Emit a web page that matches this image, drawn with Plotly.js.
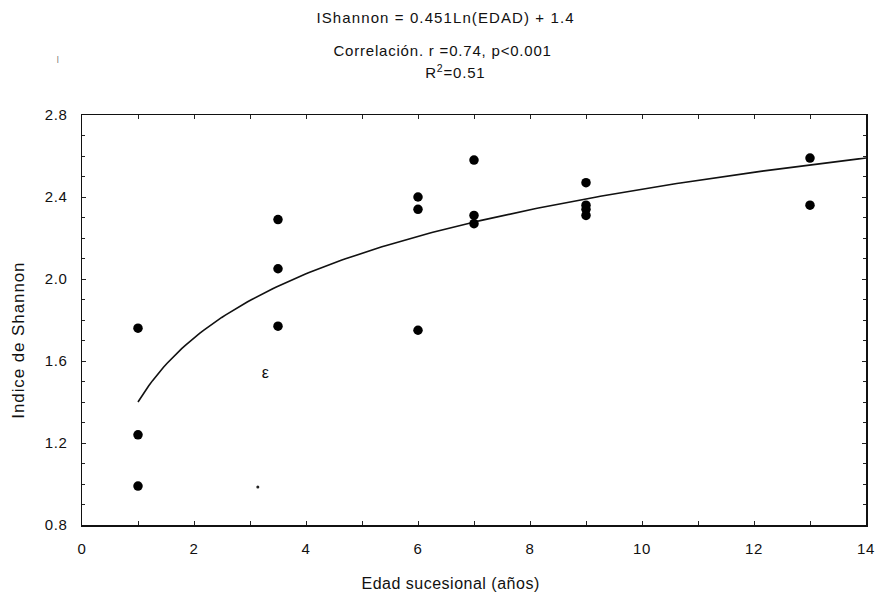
<!DOCTYPE html>
<html>
<head>
<meta charset="utf-8">
<script src="https://cdn.plot.ly/plotly-3.0.1.min.js"></script>
<style>
  html, body { margin: 0; padding: 0; background: #fff; }
  #chart { width: 877px; height: 597px; }
  #chart .annotation-text { letter-spacing: 0.5px; }
  #chart .annotation[data-index="0"] .annotation-text { letter-spacing: 1.1px; }
  #chart .annotation[data-index="1"] .annotation-text { letter-spacing: 0.8px; }
  #chart .annotation[data-index="2"] .annotation-text { letter-spacing: 0.8px; }
  #chart .annotation[data-index="4"] .annotation-text { letter-spacing: 0.9px; }
  #chart .xtick text, #chart .ytick text { letter-spacing: 0.6px; }
</style>
</head>
<body>
<div id="chart"></div>
<script>
// Successional age (years) of each plot and its Shannon diversity index
const edad = [1, 1, 1, 3.5, 3.5, 3.5, 6, 6, 6, 7, 7, 7, 9, 9, 9, 9, 13, 13];
const shannon = [1.76, 1.24, 0.99, 2.29, 2.05, 1.77, 2.40, 2.34, 1.75, 2.58, 2.31, 2.27, 2.47, 2.36, 2.34, 2.31, 2.59, 2.36];

// Small stray specks on the printed figure
const speckX = [3.14];
const speckY = [0.985];

// Logarithmic fit: IShannon = a*Ln(EDAD) + b
const fitA = 0.451;
const fitB = 1.4;
const fitRange = [1, 14];

const xTicks = [0, 2, 4, 6, 8, 10, 12, 14];
const yTicks = [0.8, 1.2, 1.6, 2.0, 2.4, 2.8];
const yTickLabels = ['0.8', '1.2', '1.6', '2.0', '2.4', '2.8'];

const headerLines = [
  'IShannon = 0.451Ln(EDAD) + 1.4',
  'Correlación. r =0.74, p<0.001',
  'R<sup>2</sup>=0.51'
];
const xTitle = 'Edad sucesional (años)';
const yTitle = 'Indice de Shannon';

const fitX = [];
const fitY = [];
for (let i = 0; i <= 200; i++) {
  const x = fitRange[0] + (fitRange[1] - fitRange[0]) * i / 200;
  fitX.push(x);
  fitY.push(fitA * Math.log(x) + fitB);
}

const font = 'Liberation Sans, Arial, sans-serif';
const W = 877, H = 597;
const M = { l: 82, r: 11, t: 115, b: 72 };
const plotW = W - M.l - M.r;
const plotH = H - M.t - M.b;
const xPaper = px => (px - M.l) / plotW;
const yPaper = py => (H - M.b - py) / plotH;

const traces = [
  {
    x: fitX, y: fitY, type: 'scatter', mode: 'lines',
    line: { color: '#111', width: 1.6 },
    hoverinfo: 'skip', showlegend: false
  },
  {
    x: edad, y: shannon, type: 'scatter', mode: 'markers',
    marker: { color: '#000', size: 9.5 },
    showlegend: false
  },
  {
    x: speckX, y: speckY, type: 'scatter', mode: 'markers',
    marker: { color: '#222', size: 3 },
    hoverinfo: 'skip', showlegend: false
  }
];

const axisCommon = {
  showline: true, linecolor: '#111', linewidth: 1.5, mirror: 'ticks',
  ticks: 'inside', ticklen: 4, tickwidth: 1, tickcolor: '#222',
  showgrid: false, zeroline: false,
  tickfont: { family: font, size: 15, color: '#111' }
};

const textFont = size => ({ family: font, size: size, color: '#111' });

const annotations = [];
// Header: fitted equation and correlation statistics
[[headerLines[0], 445, 17, 15], [headerLines[1], 442, 50, 15], [headerLines[2], 455, 72, 15]]
  .forEach(([text, px, py, size]) => annotations.push({
    text: text, xref: 'paper', yref: 'paper', x: xPaper(px), y: yPaper(py),
    xanchor: 'center', yanchor: 'middle', showarrow: false, font: textFont(size)
  }));
// Axis titles
annotations.push({
  text: xTitle, xref: 'paper', yref: 'paper', x: xPaper(450), y: yPaper(583),
  xanchor: 'center', yanchor: 'middle', showarrow: false, font: textFont(16)
});
annotations.push({
  text: yTitle, xref: 'paper', yref: 'paper', x: xPaper(18), y: yPaper(340),
  xanchor: 'center', yanchor: 'middle', textangle: -90, showarrow: false, font: textFont(17)
});
// Stray printed marks
annotations.push({
  text: 'ε', xref: 'x', yref: 'y', x: 3.27, y: 1.546,
  showarrow: false, font: textFont(16)
});
annotations.push({
  text: '|', xref: 'paper', yref: 'paper', x: xPaper(55), y: yPaper(52),
  showarrow: false, font: { family: font, size: 8, color: '#555' }
});

const layout = {
  width: W, height: H,
  margin: M,
  paper_bgcolor: '#fff', plot_bgcolor: '#fff',
  font: { family: font, color: '#111' },
  xaxis: Object.assign({}, axisCommon, {
    range: [0, 14], tickmode: 'array', tickvals: xTicks, ticklabelstandoff: 9,
    minor: { dtick: 1, ticks: 'inside', ticklen: 4, tickcolor: '#222' }
  }),
  yaxis: Object.assign({}, axisCommon, {
    range: [0.8, 2.8], tickmode: 'array', tickvals: yTicks, ticktext: yTickLabels,
    ticklabelstandoff: 10,
    minor: { dtick: 0.1, tick0: 0.8, ticks: 'inside', ticklen: 3, tickcolor: '#222' }
  }),
  annotations: annotations
};

Plotly.newPlot('chart', traces, layout, { displayModeBar: false, staticPlot: true });
</script>
</body>
</html>
